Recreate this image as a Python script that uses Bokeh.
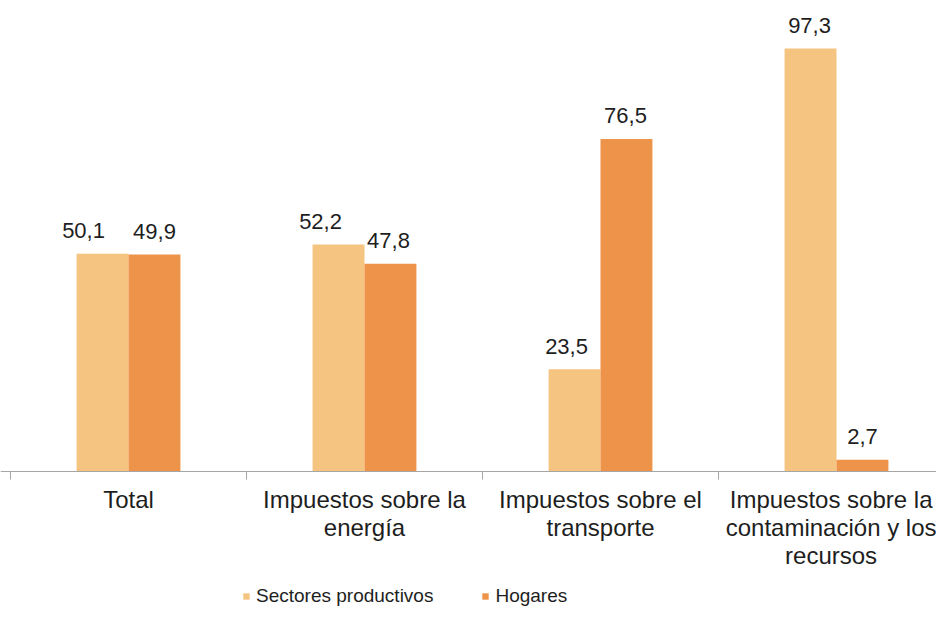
from bokeh.plotting import figure
from bokeh.models import ColumnDataSource, FixedTicker, Legend, LegendItem
from bokeh.core.properties import value
from bokeh.embed import file_html
from bokeh.resources import INLINE

categories = ["Total", "Impuestos sobre la\nenergía", "Impuestos sobre el\ntransporte",
              "Impuestos sobre la\ncontaminación y los\nrecursos"]
sectores = [50.1, 52.2, 23.5, 97.3]
hogares = [49.9, 47.8, 76.5, 2.7]
series_names = ["Sectores productivos", "Hogares"]

# label nudges (px), as placed in the original
sect_dx = [-19, -18, -8, -1]
hog_dx = [0, -2, -1, 0]

LIGHT = "#F5C480"
DARK = "#EE934A"
FONT = "Liberation Sans"
TXT = "#1E1E1E"

W, H = 936, 607
X0, BASE = 10, 471          # pixel of the category origin / value baseline
PX_CAT = 236                # pixels per category
PX_VAL = 423 / 97.3         # pixels per unit

n = len(categories)
centers = [i + 0.5 for i in range(n)]
off = 0.11
bw = 0.22

def fmt(v):
    return f"{v:.1f}".replace(".", ",")

src_s = ColumnDataSource(dict(x=[c - off for c in centers], top=sectores,
                              lab=[fmt(v) for v in sectores], dx=sect_dx))
src_h = ColumnDataSource(dict(x=[c + off for c in centers], top=hogares,
                              lab=[fmt(v) for v in hogares], dx=hog_dx))

p = figure(width=W, height=H, output_backend="svg", toolbar_location=None,
           x_range=(-X0 / PX_CAT, (W - X0) / PX_CAT),
           y_range=(-(H - BASE) / PX_VAL, BASE / PX_VAL),
           min_border_left=0, min_border_right=0, min_border_top=0, min_border_bottom=0)
p.outline_line_color = None
p.xgrid.visible = False
p.ygrid.visible = False
p.yaxis.visible = False
p.background_fill_color = "white"
p.border_fill_color = "white"

r_s = p.vbar(x="x", top="top", width=bw, source=src_s, fill_color=LIGHT, line_color=None)
r_h = p.vbar(x="x", top="top", width=bw, source=src_h, fill_color=DARK, line_color=None)

for src in (src_s, src_h):
    p.text(x="x", y="top", text="lab", source=src, x_offset="dx", y_offset=-23,
           text_align="center", text_baseline="middle",
           text_font=value(FONT), text_font_size="22px", text_color=TXT)

ax = p.xaxis[0]
ax.fixed_location = 0
ax.ticker = FixedTicker(ticks=centers, minor_ticks=list(range(n + 1)))
ax.major_label_overrides = {c: lab for c, lab in zip(centers, categories)}
ax.major_tick_line_color = None
ax.major_tick_out = 0
ax.major_tick_in = 0
ax.minor_tick_line_color = "#A6A6A6"
ax.minor_tick_out = 8
ax.minor_tick_in = 0
ax.axis_line_color = "#A6A6A6"
ax.major_label_text_font = FONT
ax.major_label_text_font_size = "24px"
ax.major_label_text_color = TXT
ax.major_label_text_line_height = 1.05
ax.major_label_standoff = 6

legend = Legend(items=[LegendItem(label=series_names[0], renderers=[r_s]),
                       LegendItem(label=series_names[1], renderers=[r_h])],
                location=(242, 0), orientation="horizontal",
                glyph_width=8, glyph_height=8, label_standoff=6, spacing=48,
                padding=0, margin=0, border_line_color=None, background_fill_alpha=0,
                label_height=18,
                label_text_font=FONT, label_text_font_size="19px", label_text_color=TXT)
p.add_layout(legend, "center")

open("out.html", "w").write(file_html(p, INLINE))
